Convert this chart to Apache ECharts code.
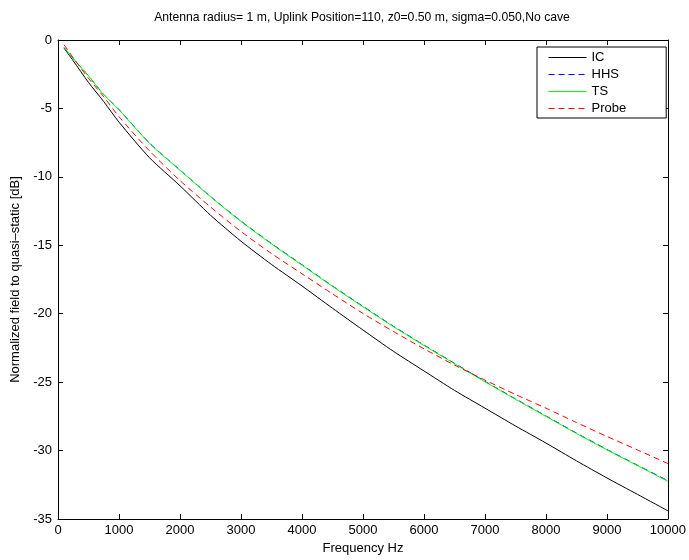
<!DOCTYPE html>
<html>
<head>
<meta charset="utf-8">
<script src="https://cdn.jsdelivr.net/npm/echarts@6/dist/echarts.min.js"></script>
<style>
  html, body { margin: 0; padding: 0; background: #fff; }
  #chart { width: 689px; height: 560px; }
</style>
</head>
<body>
<div id="chart"></div>
<script>
// Frequency samples (Hz)
const freqs = [100, 250, 500, 750, 1000, 1500, 2000, 2500, 3000, 3500, 4000, 4500,
               5000, 5500, 6000, 6500, 7000, 7500, 8000, 8500, 9000, 9500, 10000];

// Normalized field relative to quasi-static, dB
const icValues = [-0.6, -1.52, -3.1, -4.5, -6.0, -8.6, -10.65, -12.8, -14.7, -16.4, -17.97, -19.6,
                  -21.19, -22.75, -24.18, -25.6, -26.9, -28.2, -29.45, -30.75, -32.0, -33.2, -34.4];
const hhsValues = [-0.55, -1.35, -2.62, -3.98, -5.08, -7.53, -9.5, -11.43, -13.23, -14.87, -16.42, -17.97,
                   -19.46, -20.92, -22.29, -23.62, -24.94, -26.22, -27.47, -28.72, -29.92, -31.07, -32.2];
const tsValues  = [-0.55, -1.35, -2.63, -4.0, -5.1, -7.55, -9.52, -11.45, -13.26, -14.9, -16.45, -18.0,
                   -19.49, -20.95, -22.32, -23.65, -24.97, -26.25, -27.5, -28.75, -29.95, -31.1, -32.25];
const probeValues = [-0.35, -1.3, -2.8, -4.15, -5.6, -8.1, -10.27, -12.2, -13.99, -15.6, -17.08, -18.55,
                     -19.98, -21.3, -22.56, -23.75, -24.85, -25.9, -26.9, -27.95, -28.97, -29.95, -30.95];

const seriesNames = ['IC', 'HHS', 'TS', 'Probe'];
const seriesColors = ['#000000', '#0000ff', '#00ff00', '#ff0000'];
const seriesDashed = [false, true, false, true];
const seriesValues = [icValues, hhsValues, tsValues, probeValues];

const xTicks = { min: 0, max: 10000, step: 1000 };
const yTicks = { min: -35, max: 0, step: 5 };

const pairs = vals => freqs.map((f, i) => [f, vals[i]]);

const FONT = '"Liberation Sans", Arial, Helvetica, sans-serif';
const DASH = [6, 4];

// Box-style axis: black frame with inward ticks
function axis(extra, showLabels) {
  return Object.assign({
    type: 'value',
    axisLine: { show: true, onZero: false, lineStyle: { color: '#000', width: 1 } },
    axisTick: { show: true, inside: true, length: 5, lineStyle: { color: '#000', width: 1 } },
    splitLine: { show: false },
    axisLabel: showLabels
      ? { show: true, color: '#000', fontSize: 13, fontFamily: FONT, formatter: v => String(v) }
      : { show: false }
  }, extra);
}

const nameStyle = { color: '#000', fontSize: 13, fontFamily: FONT };

const xBottom = axis({ position: 'bottom', min: xTicks.min, max: xTicks.max, interval: xTicks.step,
  name: 'Frequency Hz', nameLocation: 'middle', nameGap: 23, nameTextStyle: nameStyle }, true);
xBottom.axisLabel.margin = 5;

const yLeft = axis({ position: 'left', min: yTicks.min, max: yTicks.max, interval: yTicks.step,
  name: 'Normalized field to quasi\u2013static [dB]', nameLocation: 'middle', nameGap: 36,
  nameRotate: 90, nameTextStyle: nameStyle }, true);
yLeft.axisLabel.margin = 6;

const lineStyleOf = i => ({
  color: seriesColors[i], width: 1, type: seriesDashed[i] ? DASH : 'solid'
});

const chart = echarts.init(document.getElementById('chart'), null, { renderer: 'canvas' });

chart.setOption({
  animation: false,
  backgroundColor: '#fff',
  title: {
    text: 'Antenna radius= 1 m, Uplink Position=110, z0=0.50 m, sigma=0.050,No cave',
    left: 357,
    textAlign: 'center',
    top: 7,
    textStyle: { fontSize: 12.2, fontWeight: 'normal', color: '#000', fontFamily: FONT }
  },
  grid: { left: 58, right: 21, top: 40, bottom: 38, containLabel: false },
  legend: {
    orient: 'vertical',
    left: 537,
    top: 47,
    itemWidth: 38,
    itemHeight: 11,
    itemGap: 4,
    padding: [4, 40, 3, 11],
    backgroundColor: '#fff',
    borderColor: '#000',
    borderWidth: 1,
    borderRadius: 0,
    textStyle: { color: '#000', fontSize: 13, fontFamily: FONT },
    data: seriesNames.map((name, i) => ({
      name,
      itemStyle: { opacity: 0, borderWidth: 0 },
      lineStyle: lineStyleOf(i)
    }))
  },
  xAxis: [
    xBottom,
    axis({ position: 'top', min: xTicks.min, max: xTicks.max, interval: xTicks.step }, false)
  ],
  yAxis: [
    yLeft,
    axis({ position: 'right', min: yTicks.min, max: yTicks.max, interval: yTicks.step }, false)
  ],
  series: seriesNames.map((name, i) => ({
    name,
    type: 'line',
    data: pairs(seriesValues[i]),
    symbol: 'none',
    showSymbol: false,
    smooth: 0.25,
    lineStyle: lineStyleOf(i),
    itemStyle: { color: seriesColors[i] }
  }))
});
</script>
</body>
</html>
